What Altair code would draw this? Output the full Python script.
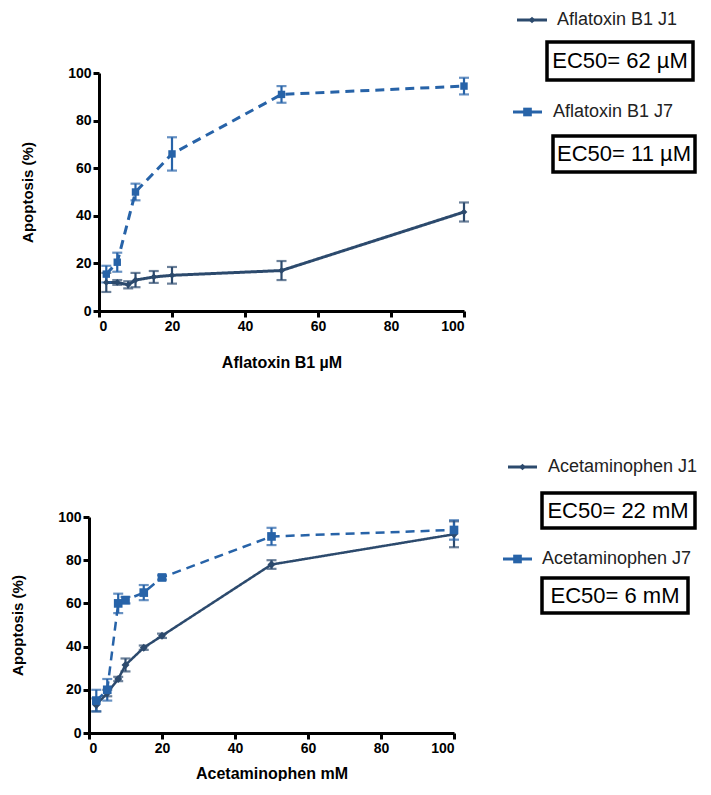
import altair as alt
import pandas as pd

# ---------------- data ----------------
afla_conc_j1 = [2, 5, 8, 10, 15, 20, 50, 100]
afla_j1 = [12, 12, 11, 13, 14.3, 15, 17, 41.6]
afla_j1_err = [4, 1, 1.5, 3, 2.5, 3.5, 4, 4]
afla_conc_j7 = [2, 5, 10, 20, 50, 100]
afla_j7 = [15.5, 20.5, 50, 66, 91, 94.5]
afla_j7_err = [3.5, 4, 3.5, 7, 3.5, 3.5]

acet_conc = [2, 5, 8, 10, 15, 20, 50, 100]
acet_j1 = [13, 18.5, 25, 31.5, 39.5, 45, 78, 92]
acet_j1_err = [3, 1.5, 1, 3, 1, 1, 2, 6]
acet_j7 = [15, 20, 60, 61.5, 65, 72, 91, 94]
acet_j7_err = [5, 5, 4.5, 1.5, 3.5, 1, 4, 4.5]

afla_names = ["Aflatoxin B1  J1", "Aflatoxin B1 J7"]
afla_ec50 = ["EC50= 62 µM", "EC50= 11 µM"]
acet_names = ["Acetaminophen J1", "Acetaminophen J7"]
acet_ec50 = ["EC50= 22 mM", "EC50= 6 mM"]

x_ticks = [0, 20, 40, 60, 80, 100]
y_ticks = [0, 20, 40, 60, 80, 100]

DARK = "#2c4a6d"
BLUE = "#2763a8"
FONT = "Liberation Sans"


def frame(xs, ys, errs, name):
    return pd.DataFrame({
        "x": xs, "y": ys,
        "lo": [y - e for y, e in zip(ys, errs)],
        "hi": [y + e for y, e in zip(ys, errs)],
        "series": name,
    })


def panel(df, names, ec50s, xtitle, height, dash, lw, lay, xtitle_pad, shift, label_size):
    color = alt.Color("series:N", scale=alt.Scale(domain=names, range=[DARK, BLUE]), legend=None)
    xs = alt.X("x:Q", scale=alt.Scale(domain=[0, 100], nice=False, range=[shift, shift + 365]),
               axis=alt.Axis(values=x_ticks, title=xtitle, titlePadding=xtitle_pad, titleFontSize=16))
    ys = alt.Y("y:Q", scale=alt.Scale(domain=[0, 100], nice=False),
               axis=alt.Axis(values=y_ticks, title="Apoptosis (%)", titlePadding=32, offset=-shift))
    base = alt.Chart(df)
    line = base.mark_line(strokeWidth=lw).encode(
        x=xs, y=ys, color=color,
        strokeDash=alt.StrokeDash("series:N", scale=alt.Scale(domain=names, range=[[1, 0], dash]), legend=None),
    )
    err = base.mark_rule(strokeWidth=2.2).encode(x="x:Q", y="lo:Q", y2="hi:Q", color=color)
    cap_lo = base.mark_tick(orient="horizontal", size=10, thickness=2.2).encode(x="x:Q", y="lo:Q", color=color)
    cap_hi = base.mark_tick(orient="horizontal", size=10, thickness=2.2).encode(x="x:Q", y="hi:Q", color=color)
    pts = base.mark_point(filled=True, opacity=1).encode(
        x="x:Q", y="y:Q", color=color,
        shape=alt.Shape("series:N", scale=alt.Scale(domain=names, range=["diamond", "square"]), legend=None),
        size=alt.Size("series:N", scale=alt.Scale(domain=names, range=[45, 75]), legend=None),
    )

    one = alt.Chart(pd.DataFrame({"k": [0]}))
    legend_layers = []
    cols = [DARK, BLUE]
    shapes = ["diamond", "square"]
    sizes = [45, 75]
    for i in range(2):
        sx0, sx1, sy, tx, bx0, bx1, by0, by1, ecx, ecy = lay[i]
        sx0, sx1, tx, bx0, bx1, ecx = [v + shift for v in (sx0, sx1, tx, bx0, bx1, ecx)]
        legend_layers.append(one.mark_rule(strokeWidth=3, color=cols[i]).encode(
            x=alt.value(sx0), x2=alt.value(sx1), y=alt.value(sy)))
        legend_layers.append(one.mark_point(filled=True, opacity=1, color=cols[i], shape=shapes[i], size=sizes[i]).encode(
            x=alt.value((sx0 + sx1) / 2), y=alt.value(sy)))
        legend_layers.append(one.mark_text(align="left", baseline="middle", font=FONT, fontSize=label_size, color="#222222").encode(
            x=alt.value(tx), y=alt.value(sy), text=alt.value(names[i])))
        legend_layers.append(one.mark_rect(fill="white", stroke="black", strokeWidth=3.5).encode(
            x=alt.value(bx0), x2=alt.value(bx1), y=alt.value(by0), y2=alt.value(by1)))
        legend_layers.append(one.mark_text(align="center", baseline="middle", font=FONT, fontSize=22, color="black").encode(
            x=alt.value(ecx), y=alt.value(ecy), text=alt.value(ec50s[i])))

    return alt.layer(line, err, cap_lo, cap_hi, pts, *legend_layers).properties(width=365 + shift, height=height)


afla_df = pd.concat([frame(afla_conc_j1, afla_j1, afla_j1_err, afla_names[0]),
                     frame(afla_conc_j7, afla_j7, afla_j7_err, afla_names[1])])
acet_df = pd.concat([frame(acet_conc, acet_j1, acet_j1_err, acet_names[0]),
                     frame(acet_conc, acet_j7, acet_j7_err, acet_names[1])])

top_layout = [
    (418, 448, -53, 458, 448, 594, -31, 7, 521, -12),
    (414, 443, 39, 454, 454, 596, 63, 99, 525, 81),
]
bottom_layout = [
    (419, 448, -50, 459, 453, 606, -24, 11, 529, -6),
    (414, 443, 42, 453, 453, 599, 61, 96, 526, 79),
]

top = panel(afla_df, afla_names, afla_ec50, "Aflatoxin B1 µM", 238, [9, 6], 3, top_layout, 21, 10, 18)
bottom = panel(acet_df, acet_names, acet_ec50, "Acetaminophen mM", 216, [8, 6], 2.5, bottom_layout, 10, 0, 18)

chart = alt.vconcat(top, bottom, spacing=88).properties(
    padding={"left": 2, "top": 3, "right": 0, "bottom": 0}
).configure_view(stroke=None).configure_axis(
    grid=False, domainColor="black", domainWidth=3, tickColor="black", tickWidth=3, tickSize=6,
    labelFont=FONT, labelFontSize=14, labelFontWeight="bold", labelColor="black",
    titleFont=FONT, titleFontSize=15, titleFontWeight="bold", titleColor="black",
)

chart.save("out.html", embed_options={"renderer": "svg", "actions": False})
